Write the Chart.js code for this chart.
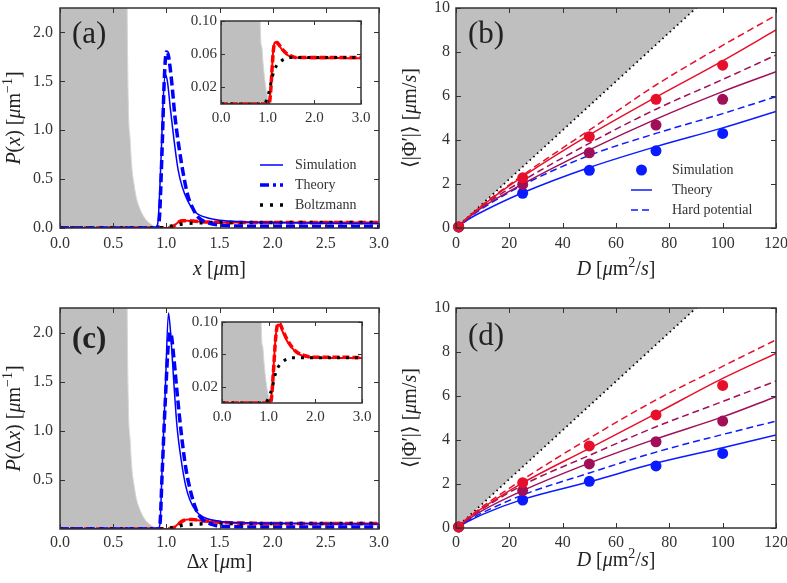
<!DOCTYPE html>
<html>
<head>
<meta charset="utf-8">
<script src="https://cdn.jsdelivr.net/npm/chart.js@4.4.0/dist/chart.umd.min.js"></script>
<style>
body{margin:0;background:#fff;width:787px;height:583px;position:relative;overflow:hidden}
canvas{position:absolute}
</style>
</head>
<body>
<canvas id="pa" width="393" height="291" style="left:0;top:0"></canvas>
<canvas id="pb" width="394" height="291" style="left:393px;top:0"></canvas>
<canvas id="pc" width="393" height="292" style="left:0;top:291px"></canvas>
<canvas id="pd" width="394" height="292" style="left:393px;top:291px"></canvas>
<canvas id="ia" width="195" height="120" style="left:180px;top:6px"></canvas>
<canvas id="ic" width="195" height="120" style="left:181px;top:306px"></canvas>
<script>
// ---- data ----
// (a) P(x)
const aSimX=[0,0.9,0.92,0.95,0.97,0.99,1.01,1.04,1.07,1.11,1.15,1.2,1.25,1.3,1.4,1.5,1.7,2.0,2.5,3.0]
const aSimY=[0,0,0.05,0.7,1.3,1.57,1.5,1.2,0.92,0.6,0.42,0.28,0.19,0.14,0.1,0.08,0.065,0.055,0.048,0.045]
const aThX=[0,0.9,0.93,0.96,0.98,1.0,1.02,1.05,1.08,1.12,1.16,1.2,1.25,1.3,1.4,1.5,1.7,2.0,3.0]
const aThY=[0,0,0.05,0.8,1.5,1.8,1.76,1.5,1.15,0.82,0.55,0.34,0.2,0.11,0.05,0.03,0.02,0.018,0.018]
const aRedX=[0,1.03,1.06,1.09,1.12,1.15,1.2,1.25,1.3,1.4,1.5,1.6,1.8,2.0,2.5,3.0]
const aRedSim=[0,0,0.015,0.04,0.065,0.074,0.073,0.07,0.066,0.06,0.057,0.056,0.0555,0.055,0.0555,0.055]
const aRedTh=[0,0,0.012,0.038,0.063,0.073,0.074,0.071,0.067,0.061,0.058,0.056,0.056,0.056,0.056,0.056]
const aBoltzX=[0,0.9,0.95,1.0,1.05,1.1,1.15,1.2,1.25,1.35,1.5,1.7,2.0,3.0]
const aBoltzY=[0,0,0.002,0.008,0.02,0.033,0.042,0.047,0.05,0.054,0.056,0.056,0.056,0.056]
// (c) P(dx)
const cSimX=[0,0.92,0.94,0.96,0.99,1.02,1.04,1.07,1.1,1.14,1.18,1.22,1.28,1.35,1.5,1.7,2.0,3.0]
const cSimY=[0,0,0.05,0.6,1.4,2.2,2.0,1.5,1.05,0.7,0.45,0.3,0.18,0.12,0.08,0.065,0.058,0.05]
const cThX=[0,0.92,0.94,0.96,0.99,1.02,1.04,1.07,1.1,1.14,1.18,1.22,1.26,1.3,1.35,1.45,1.6,2.0,3.0]
const cThY=[0,0,0.05,0.55,1.3,1.9,2.0,1.75,1.4,0.98,0.64,0.42,0.26,0.15,0.09,0.04,0.025,0.02,0.02]
const cRedX=[0,1.04,1.07,1.1,1.15,1.2,1.25,1.3,1.4,1.5,1.6,1.8,2.0,2.5,3.0]
const cRedSim=[0,0,0.015,0.04,0.082,0.097,0.095,0.088,0.076,0.068,0.062,0.057,0.056,0.0555,0.0555]
const cRedTh=[0,0,0.012,0.037,0.08,0.098,0.097,0.09,0.078,0.069,0.063,0.058,0.0565,0.0565,0.056]
const cBoltzX=[0,0.92,0.98,1.03,1.08,1.14,1.2,1.28,1.35,1.5,1.7,2.0,3.0]
const cBoltzY=[0,0,0.004,0.011,0.02,0.035,0.044,0.05,0.053,0.056,0.056,0.056,0.056]
// grey potential region
const wallX=[0,0.62,0.63,0.642,0.66,0.674,0.7,0.72,0.75,0.78,0.82,0.86,0.9,0.93]
const wallY=[5,5,2.5,1.3,0.9,0.64,0.42,0.3,0.2,0.13,0.07,0.035,0.01,0]
const wallInX=[0,0.83,0.84,0.87,0.9,0.94,0.98,1.02,1.06]
const wallInY=[1,1,0.1,0.07,0.05,0.028,0.013,0.004,0]
// (b),(d) <|Phi'|> vs D
const D=[0,5,10,25,50,75,100,120]
const simD=[1,25,50,75,100]
const boundD=[0,120]
const boundV=[0,13.33]
const bRedTh=[0,0.53,1.03,2.33,4.23,5.95,7.6,9.0]
const bRedHard=[0,0.54,1.06,2.4,4.45,6.5,8.3,9.67]
const bPurTh=[0,0.5,0.95,2.0,3.55,4.95,6.2,7.1]
const bPurHard=[0,0.52,1.0,2.15,3.85,5.4,6.75,7.86]
const bBluTh=[0,0.42,0.75,1.6,2.75,3.7,4.55,5.3]
const bBluHard=[0,0.48,0.9,1.95,3.3,4.3,5.2,5.97]
const bRedSim=[0.05,2.28,4.15,5.85,7.4]
const bPurSim=[0.05,1.98,3.42,4.68,5.85]
const bBluSim=[0.05,1.58,2.62,3.51,4.3]
const dRedTh=[0,0.5,0.92,2.05,3.62,5.2,6.8,7.94]
const dRedHard=[0,0.52,0.98,2.2,4.08,5.82,7.35,8.55]
const dPurTh=[0,0.42,0.8,1.7,2.95,4.05,5.05,5.97]
const dPurHard=[0,0.47,0.88,1.95,3.3,4.6,5.75,6.68]
const dBluTh=[0,0.33,0.62,1.3,2.1,2.95,3.65,4.23]
const dBluHard=[0,0.38,0.7,1.5,2.5,3.45,4.25,4.86]
const dRedSim=[0.05,2.06,3.73,5.14,6.48]
const dPurSim=[0.05,1.7,2.91,3.92,4.86]
const dBluSim=[0.05,1.27,2.12,2.82,3.39]
// ticks
const xTicksP=[0,0.5,1,1.5,2,2.5,3]
const yTicksA=[0,0.5,1,1.5,2]
const yTicksC=[0.5,1,1.5,2]
const xTicksIn=[0,1,2,3]
const yTicksIn=[0.02,0.06,0.10]
const xTicksD=[0,20,40,60,80,100,120]
const yTicksD=[0,2,4,6,8,10]

const serif='"Liberation Serif","DejaVu Serif",serif'
Chart.defaults.font.family=serif
const BLUE='#0000ff',RED='#ff0000',GREY='#bfbfbf'
const R2='#e6102a',P2='#a00f58',B2='#0b1bff'

const pts=(xs,ys)=>xs.map((x,i)=>({x:x,y:ys[i]}))

function line(xs,ys,color,w,dash,extra){
  return Object.assign({data:pts(xs,ys),borderColor:color,borderWidth:w,borderDash:dash||[],
    pointRadius:0,fill:false,clip:0,cubicInterpolationMode:'monotone'},extra||{})
}
function dots(xs,ys,color){
  return {data:pts(xs,ys),showLine:false,pointRadius:5.5,pointBorderWidth:0,
    pointBackgroundColor:color,borderColor:color,backgroundColor:color,clip:false}
}
function wall(xs,ys){
  return {data:pts(xs,ys),borderColor:'#d6d6d6',borderWidth:1,backgroundColor:GREY,
    pointRadius:0,fill:'origin',clip:0,cubicInterpolationMode:'monotone'}
}

// draw text made of runs: [text, style] with style '' | 'i' (italic) | 's' (superscript)
function runs(ctx,parts,size,x,y){
  const f=p=>(p[1]==='i'?'italic ':'')+(p[1]==='s'?Math.round(size*0.7):size)+'px '+serif
  let w=0
  parts.forEach(p=>{ctx.font=f(p);w+=ctx.measureText(p[0]).width})
  let cx=x-w/2
  parts.forEach(p=>{ctx.font=f(p);ctx.fillText(p[0],cx,p[1]==='s'?y-size*0.4:y);cx+=ctx.measureText(p[0]).width})
}

// frame + inward ticks + labels + legend
function deco(cfg){
  return {
    id:'deco',
    beforeDatasetsDraw(ch){
      if(!cfg.whiteBg)return
      const {ctx,chartArea:a}=ch
      ctx.save();ctx.fillStyle='#fff';ctx.fillRect(a.left,a.top,a.right-a.left,a.bottom-a.top);ctx.restore()
    },
    afterDatasetsDraw(ch){
      const {ctx,chartArea:a,scales}=ch
      const L=cfg.tick||5
      ctx.save()
      ctx.strokeStyle='#333';ctx.lineWidth=1
      ctx.beginPath()
      scales.x.ticks.forEach(t=>{
        const p=Math.round(scales.x.getPixelForValue(t.value))+0.5
        ctx.moveTo(p,a.bottom);ctx.lineTo(p,a.bottom-L)
        ctx.moveTo(p,a.top);ctx.lineTo(p,a.top+L)
      })
      scales.y.ticks.forEach(t=>{
        const p=Math.round(scales.y.getPixelForValue(t.value))+0.5
        ctx.moveTo(a.left,p);ctx.lineTo(a.left+L,p)
        ctx.moveTo(a.right,p);ctx.lineTo(a.right-L,p)
      })
      ctx.stroke()
      ctx.lineWidth=1.5;ctx.strokeStyle='#333'
      ctx.strokeRect(a.left,a.top,a.right-a.left,a.bottom-a.top)
      ctx.fillStyle='#222';ctx.textBaseline='alphabetic'
      if(cfg.panel){
        ctx.font=(cfg.panelBold?'bold ':'')+'31px '+serif
        ctx.fillText(cfg.panel,a.left+12,a.top+cfg.panelY)
      }
      if(cfg.xt)runs(ctx,cfg.xt,20,(a.left+a.right)/2,a.bottom+cfg.xtOff)
      if(cfg.yt){
        ctx.save();ctx.translate(a.left-46,(a.top+a.bottom)/2);ctx.rotate(-Math.PI/2)
        runs(ctx,cfg.yt,20,0,6);ctx.restore()
      }
      if(cfg.legend){
        const g=cfg.legend
        g.items.forEach((it,i)=>{
          const y=a.top+g.y+i*20, x0=a.left+g.x
          if(it.dot){
            ctx.fillStyle=it.color;ctx.beginPath();ctx.arc(x0+g.w/2,y,5.5,0,Math.PI*2);ctx.fill()
          }else{
            ctx.strokeStyle=it.color;ctx.lineWidth=it.width;ctx.setLineDash(it.dash||[])
            ctx.beginPath();ctx.moveTo(x0,y);ctx.lineTo(x0+g.w,y);ctx.stroke();ctx.setLineDash([])
          }
          ctx.fillStyle='#333';ctx.font='14px '+serif;ctx.textBaseline='middle'
          ctx.fillText(it.label,x0+g.w+g.tx,y)
          ctx.textBaseline='alphabetic'
        })
      }
      ctx.restore()
    }
  }
}

function scales(o){
  return {
    x:{type:'linear',min:o.xr[0],max:o.xr[1],grid:{display:false,drawTicks:false},border:{display:false},
      afterBuildTicks:s=>{s.ticks=o.xt.map(v=>({value:v}))},
      afterFit:s=>{s.height=o.xh;s.paddingLeft=0;s.paddingRight=0},
      ticks:{padding:o.xpad,color:'#333',autoSkip:false,maxRotation:0,font:{family:serif,size:o.fs},
        callback:v=>Number(v).toFixed(o.xd)}},
    y:{type:'linear',min:o.yr[0],max:o.yr[1],grid:{display:false,drawTicks:false},border:{display:false},
      afterBuildTicks:s=>{s.ticks=o.yt.map(v=>({value:v}))},
      afterFit:s=>{s.width=o.yw;s.paddingTop=0;s.paddingBottom=0},
      ticks:{padding:o.ypad,color:'#333',autoSkip:false,font:{family:serif,size:o.fs},
        callback:v=>Number(v).toFixed(o.yd)}}
  }
}

function make(id,datasets,sc,pad,cfg){
  new Chart(document.getElementById(id),{
    type:'line',
    data:{datasets:datasets},
    options:{responsive:false,animation:false,devicePixelRatio:1,
      layout:{padding:pad},
      plugins:{legend:{display:false},tooltip:{enabled:false}},
      scales:sc},
    plugins:[deco(cfg)]
  })
}

// ---- (a) ----
make('pa',[
  line(aThX,aThY,BLUE,3.5,[9,4]),
  line(aSimX,aSimY,BLUE,1.5),
  line(aBoltzX,aBoltzY,'#000',3.5,[3,7]),
  line(aRedX,aRedTh,RED,3.5,[8,4]),
  line(aRedX,aRedSim,RED,2),
  wall(wallX,wallY)
],scales({xr:[0,3],yr:[0,2.25],xt:xTicksP,yt:yTicksA,xh:63,yw:60,xpad:6,ypad:7,fs:16,xd:1,yd:1}),
{left:0,top:8,right:14,bottom:0},
{panel:'(a)',panelY:35,xtOff:47,
 xt:[['x','i'],[' [',''],['μ','i'],['m]','']],
 yt:[['P','i'],['(',''],['x','i'],[') [',''],['μ','i'],['m',''],['−1','s'],[']','']],
 legend:{x:200,y:157,w:23,tx:12,items:[
  {label:'Simulation',color:BLUE,width:1.5},
  {label:'Theory',color:BLUE,width:3.5,dash:[9,4,3,4]},
  {label:'Boltzmann',color:'#000',width:3.5,dash:[3,7]}]}})

// ---- inset (a) ----
make('ia',[
  line(aBoltzX,aBoltzY,'#000',3,[3,6]),
  line(aRedX,aRedTh,RED,3.5,[7,3]),
  line(aRedX,aRedSim,RED,2),
  wall(wallInX,wallInY)
],scales({xr:[0,3],yr:[0,0.1],xt:xTicksIn,yt:yTicksIn,xh:22,yw:41,xpad:5,ypad:4,fs:15,xd:1,yd:2}),
{left:0,top:15,right:14,bottom:0},{tick:4,whiteBg:true})

// ---- (c) ----
make('pc',[
  line(cThX,cThY,BLUE,3.5,[9,4]),
  line(cSimX,cSimY,BLUE,1.5),
  line(cBoltzX,cBoltzY,'#000',3.5,[3,7]),
  line(cRedX,cRedTh,RED,3.5,[8,4]),
  line(cRedX,cRedSim,RED,2),
  wall(wallX,wallY)
],scales({xr:[0,3],yr:[0,2.25],xt:xTicksP,yt:yTicksC,xh:54,yw:60,xpad:4,ypad:7,fs:16,xd:1,yd:1}),
{left:0,top:17,right:14,bottom:0},
{panel:'(c)',panelBold:true,panelY:40,xtOff:39,
 xt:[['Δ',''],['x','i'],[' [',''],['μ','i'],['m]','']],
 yt:[['P','i'],['(Δ',''],['x','i'],[') [',''],['μ','i'],['m',''],['−1','s'],[']','']]})

// ---- inset (c) ----
make('ic',[
  line(cBoltzX,cBoltzY,'#000',3,[3,6]),
  line(cRedX,cRedTh,RED,3.5,[7,3]),
  line(cRedX,cRedSim,RED,2),
  wall(wallInX,wallInY)
],scales({xr:[0,3],yr:[0,0.1],xt:xTicksIn,yt:yTicksIn,xh:23,yw:41,xpad:5,ypad:4,fs:15,xd:1,yd:2}),
{left:0,top:16,right:14,bottom:0},{tick:4,whiteBg:true})

// ---- (b) and (d) ----
function phiSets(rs,ps,bs,rt,rh,pt,ph,bt,bh){
  return [
    dots(simD,rs,R2),dots(simD,ps,P2),dots(simD,bs,B2),
    line(D,rt,R2,1.5),line(D,rh,R2,1.5,[7,4]),
    line(D,pt,P2,1.5),line(D,ph,P2,1.5,[7,4]),
    line(D,bt,B2,1.5),line(D,bh,B2,1.5,[7,4]),
    Object.assign(line(boundD,boundV,'#000',1.8,[1.5,3.5]),{fill:'end',backgroundColor:GREY,cubicInterpolationMode:'default',tension:0})
  ]
}
const phiYt=[['⟨|Φ′|⟩',''],[' [',''],['μ','i'],['m/',''],['s','i'],[']','']]
const phiXt=[['D','i'],[' [',''],['μ','i'],['m',''],['2','s'],['/',''],['s','i'],[']','']]

make('pb',phiSets(bRedSim,bPurSim,bBluSim,bRedTh,bRedHard,bPurTh,bPurHard,bBluTh,bBluHard),
scales({xr:[0,120],yr:[0,10],xt:xTicksD,yt:yTicksD,xh:63,yw:63,xpad:6,ypad:6,fs:16,xd:0,yd:0}),
{left:0,top:8,right:11,bottom:0},
{panel:'(b)',panelY:35,xtOff:47,xt:phiXt,yt:phiYt,
 legend:{x:175,y:162,w:21,tx:20,items:[
  {label:'Simulation',color:B2,dot:true},
  {label:'Theory',color:B2,width:1.5},
  {label:'Hard potential',color:B2,width:1.5,dash:[7,4]}]}})

make('pd',phiSets(dRedSim,dPurSim,dBluSim,dRedTh,dRedHard,dPurTh,dPurHard,dBluTh,dBluHard),
scales({xr:[0,120],yr:[0,10],xt:xTicksD,yt:yTicksD,xh:55,yw:63,xpad:5,ypad:6,fs:16,xd:0,yd:0}),
{left:0,top:17,right:11,bottom:0},
{panel:'(d)',panelY:37,xtOff:38,xt:phiXt,yt:phiYt})
</script>
</body>
</html>
